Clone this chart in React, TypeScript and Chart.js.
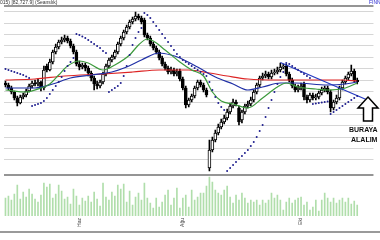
import React, { useEffect, useRef } from "react";
import { Chart, registerables } from "chart.js";

Chart.register(...registerables);

// price in hundreds of index points, one candle per trading day
const SLOTS = 125;
const tickIndex = [25, 60, 100];
const tickText = ["Haz", "Ağu", "Eki"];

const openP = [
  817, 815, 812, 808, 802, 797, 803, 805, 809, 814,
  817, 816, 818, 812, 834, 830, 838, 848, 853, 858,
  860, 862, 859, 854, 848, 836, 833, 835, 832, 827,
  822, 816, 814, 818, 826, 834, 840, 843, 848, 856,
  862, 868, 873, 878, 881, 884, 882, 880, 865, 862,
  856, 852, 848, 842, 836, 832, 828, 830, 826, 829,
  821, 812, 795, 800, 804, 812, 818, 815, 810, 732,
  750, 760, 767, 773, 778, 782, 788, 794, 798, 792,
  780, 788, 794, 796, 800, 808, 815, 822, 824, 826,
  823, 827, 828, 830, 833, 834, 826, 820, 814, 810,
  812, 816, 803, 800, 805, 802, 803, 807, 810, 812,
  808, 792, 798, 802, 812, 818, 822, 826, 829, 820,
];
const closeP = [
  815, 812, 808, 802, 797, 803, 805, 809, 814, 817,
  816, 818, 812, 830, 830, 838, 848, 853, 858, 860,
  862, 859, 854, 848, 836, 833, 835, 832, 827, 822,
  816, 814, 818, 826, 834, 840, 843, 848, 856, 862,
  868, 873, 878, 881, 884, 882, 878, 865, 862, 856,
  852, 848, 842, 836, 832, 828, 830, 826, 828, 821,
  812, 795, 800, 804, 812, 818, 815, 810, 805, 750,
  760, 767, 773, 778, 782, 788, 794, 798, 796, 778,
  788, 794, 796, 800, 808, 815, 822, 824, 826, 823,
  827, 828, 830, 833, 834, 826, 820, 814, 810, 812,
  814, 803, 800, 805, 802, 803, 807, 810, 812, 808,
  792, 798, 802, 812, 818, 822, 826, 829, 820, 818,
];
const highP = [
  819, 817, 814, 809, 804, 805, 807, 811, 816, 819,
  820, 821, 819, 834, 836, 841, 850, 856, 860, 863,
  865, 864, 861, 856, 850, 839, 837, 837, 834, 829,
  824, 819, 820, 828, 836, 842, 845, 850, 858, 864,
  870, 875, 880, 883, 888, 886, 884, 882, 867, 864,
  858, 854, 850, 844, 838, 834, 833, 832, 831, 831,
  823, 814, 802, 806, 814, 820, 820, 817, 812, 760,
  763, 770, 776, 781, 785, 791, 797, 801, 800, 794,
  790, 796, 799, 803, 810, 817, 824, 827, 829, 828,
  830, 831, 833, 837, 836, 836, 828, 822, 816, 815,
  817, 818, 805, 807, 807, 806, 809, 813, 814, 814,
  810, 800, 805, 814, 820, 824, 828, 835, 831, 822,
];
const lowP = [
  813, 810, 806, 800, 794, 796, 801, 803, 808, 812,
  814, 814, 809, 810, 828, 829, 836, 846, 851, 856,
  858, 857, 852, 846, 834, 830, 831, 829, 824, 819,
  810, 811, 812, 816, 824, 832, 838, 841, 846, 854,
  860, 866, 871, 876, 879, 880, 876, 863, 860, 854,
  850, 846, 840, 834, 830, 826, 826, 824, 824, 819,
  810, 792, 793, 798, 802, 810, 813, 808, 803, 729,
  748, 758, 765, 771, 776, 780, 786, 792, 794, 775,
  777, 786, 792, 794, 798, 806, 813, 820, 822, 821,
  821, 825, 826, 828, 831, 824, 818, 812, 808, 808,
  810, 800, 797, 798, 800, 800, 801, 805, 808, 806,
  788, 790, 796, 800, 810, 816, 820, 824, 818, 816,
];
const volume = [
  180, 200, 160, 220, 310, 170, 240, 190, 270, 220,
  170, 140, 210, 330, 290, 320, 180, 220, 310, 250,
  170, 190, 120, 270, 200, 110, 180, 150, 200, 140,
  240, 170, 100, 330, 190, 160, 240, 200, 310, 270,
  320, 140, 250, 110, 190, 230, 160, 330, 180, 130,
  80, 180, 90, 140, 210, 260, 110, 180, 280, 80,
  180, 210, 90, 260, 160, 190, 230, 230, 300, 390,
  340, 260, 230, 210, 260, 300, 190, 130, 210, 160,
  230, 180, 130, 160, 140, 160, 110, 160, 130, 160,
  230, 180, 210, 160, 60, 140, 180, 130, 160, 180,
  190, 110, 140, 60, 90, 160, 50, 160, 230, 180,
  140, 180, 130, 160, 180, 140, 180, 120, 150, 110,
];
const sar = [
  831, 830, 829, 828, 827, 826, 825, 823.5, 822, 794,
  795, 796, 797, 799, 802, 806, 810, 814, 818, 823,
  829, 834, 838, 842, 866, 865, 863.5, 862, 860, 858,
  856, 854, 852, 849, 847, 808, 810, 812, 814, 817,
  824, 834, 845, 855, 862, 868, 872, 887, 885, 882,
  878, 874, 870, 866, 862, 858, 854, 850, 846, 843,
  840, 838, 836, 834, 832, 830, 828, 826, 824, 818,
  810, 803, 797, 793, 790, 729, 732, 735, 738, 741,
  744, 747, 750, 754, 758, 763, 769, 775, 783, 792,
  800, 808, 816, 823, 828, 837, 836, 834, 832, 830,
  828, 826, 824, 822, 796, 796.5, 797, 797.5, 798, 798.5,
  786, 788, 790, 792, 794, 796, 798, 800, 802, 804,
];

const redAt = [0, 10, 20, 33, 43, 52, 62, 69, 75, 82, 92, 105, 114, 119];
const redVal = [820, 821, 824, 826, 828, 830, 830, 827, 824, 821, 820, 820, 820, 819];
const blueAt = [0, 10, 16, 22, 29, 36, 41, 46, 52, 56, 59, 65, 71, 77, 82, 87, 93, 98, 109, 115, 119];
const blueVal = [812, 812, 816, 822, 825, 828, 833, 840, 847, 845, 842, 833, 823, 816, 810, 813, 817, 817, 815, 816, 818];
const greenAt = [0, 7, 12, 15, 18, 21, 25, 28, 33, 37, 42, 45, 48, 50, 54, 59, 63, 67, 70, 73, 77, 82, 87, 92, 95, 99, 105, 109, 115, 119];
const greenVal = [810, 808, 812, 816, 825, 834, 839, 837, 830, 835, 845, 855, 861, 859, 850, 838, 830, 824, 808, 799, 796, 792, 802, 813, 817, 813, 811, 810, 812, 817];
const trendAt = [93, 124];
const trendVal = [837.5, 798];

const priceGrid = [894, 888.3, 876.9, 865.5, 854.1, 842.7, 831.3, 819.9, 808.5, 797.1, 785.7, 774.3, 762.9, 751.5, 740.1, 725];
const priceMin = 684;
const priceMax = 894;
const volMax = 2100;

export default function App() {
  const ref = useRef<HTMLCanvasElement>(null);

  useEffect(() => {
    const labels = Array.from({ length: SLOTS }, (_, i) => {
      const k = tickIndex.indexOf(i);
      return k >= 0 ? tickText[k] : "";
    });
    const sparse = (at: number[], vals: number[]) => {
      const a: (number | null)[] = new Array(SLOTS).fill(null);
      at.forEach((idx, k) => {
        a[idx] = vals[k];
      });
      return a;
    };
    const bodies = openP.map((o, i) => [o, closeP[i]]);
    const wicks = lowP.map((l, i) => [l, highP[i]]);
    const bodyColors = openP.map((o, i) => (closeP[i] >= o ? "#ffffff" : "#000000"));

    const chart = new Chart(ref.current as HTMLCanvasElement, {
      type: "bar",
      data: {
        labels,
        datasets: [
          {
            type: "line",
            label: "SAR",
            data: sar,
            showLine: false,
            pointRadius: 1,
            pointBorderWidth: 0,
            pointBackgroundColor: "#1f1f8f",
            yAxisID: "y",
            order: 1,
          } as any,
          {
            type: "line",
            label: "Trend",
            data: sparse(trendAt, trendVal),
            borderColor: "#2438c0",
            borderWidth: 1.3,
            pointRadius: 0,
            spanGaps: true,
            yAxisID: "y",
            order: 2,
          } as any,
          {
            type: "line",
            label: "MA kısa",
            data: sparse(greenAt, greenVal),
            borderColor: "#3d9a3d",
            borderWidth: 1.2,
            pointRadius: 0,
            spanGaps: true,
            cubicInterpolationMode: "monotone",
            yAxisID: "y",
            order: 3,
          } as any,
          {
            type: "line",
            label: "MA orta",
            data: sparse(blueAt, blueVal),
            borderColor: "#1f2fa6",
            borderWidth: 1.2,
            pointRadius: 0,
            spanGaps: true,
            cubicInterpolationMode: "monotone",
            yAxisID: "y",
            order: 4,
          } as any,
          {
            type: "line",
            label: "MA uzun",
            data: sparse(redAt, redVal),
            borderColor: "#dd2424",
            borderWidth: 1.2,
            pointRadius: 0,
            spanGaps: true,
            cubicInterpolationMode: "monotone",
            yAxisID: "y",
            order: 5,
          } as any,
          {
            type: "bar",
            label: "Gövde",
            data: bodies as any,
            backgroundColor: bodyColors,
            borderColor: "#000000",
            borderWidth: 1,
            borderSkipped: false,
            barThickness: 3,
            grouped: false,
            yAxisID: "y",
            order: 8,
          } as any,
          {
            type: "bar",
            label: "Fitil",
            data: wicks as any,
            backgroundColor: "#000000",
            borderWidth: 0,
            barThickness: 1,
            grouped: false,
            yAxisID: "y",
            order: 9,
          } as any,
          {
            type: "bar",
            label: "Hacim",
            data: volume,
            backgroundColor: "#b0deab",
            borderWidth: 0,
            barThickness: 1,
            grouped: false,
            yAxisID: "yv",
            order: 10,
          } as any,
        ],
      },
      options: {
        responsive: false,
        animation: false,
        events: [],
        layout: { padding: { top: 6, left: 0, right: 0, bottom: 0 } },
        plugins: { legend: { display: false }, tooltip: { enabled: false } },
        scales: {
          x: {
            grid: { display: false, drawTicks: false },
            border: { display: false },
            ticks: {
              autoSkip: false,
              maxRotation: 90,
              minRotation: 90,
              padding: 2,
              color: "#444",
              font: { size: 5, family: "Liberation Sans" },
            },
            afterFit: (s: any) => {
              s.height = 24;
            },
          },
          y: {
            position: "left",
            min: priceMin,
            max: priceMax,
            afterBuildTicks: (s: any) => {
              s.ticks = priceGrid.map((v) => ({ value: v }));
            },
            ticks: { display: false },
            grid: {
              drawTicks: false,
              color: (c: any) =>
                c.tick && (c.tick.value === 725 || c.tick.value === 894) ? "#959595" : "#d6d6d6",
              lineWidth: (c: any) =>
                c.tick && (c.tick.value === 725 || c.tick.value === 894) ? 2 : 1,
            },
            border: { display: false },
            afterFit: (s: any) => {
              s.width = 0;
            },
          },
          yv: {
            display: false,
            min: 0,
            max: volMax,
          },
        },
      } as any,
    });
    return () => chart.destroy();
  }, []);

  return (
    <div
      style={{
        position: "fixed",
        left: 0,
        top: 0,
        width: 380,
        height: 240,
        overflow: "hidden",
        background: "#ffffff",
      }}
    >
      <canvas ref={ref} width={380} height={240} style={{ position: "absolute", left: 0, top: 0 }} />
      <div
        style={{
          position: "absolute",
          left: 0,
          top: -1,
          fontFamily: "Liberation Sans, Arial, sans-serif",
          fontSize: 5,
          lineHeight: "6px",
          color: "#333",
          whiteSpace: "nowrap",
        }}
      >
        015) [82,727.9] (Seanslık)
      </div>
      <div
        style={{
          position: "absolute",
          left: 369,
          top: -1,
          fontFamily: "Liberation Sans, Arial, sans-serif",
          fontSize: 5,
          lineHeight: "6px",
          color: "#2a2ad0",
          whiteSpace: "nowrap",
        }}
      >
        FINNET
      </div>
      <svg
        width={380}
        height={240}
        style={{ position: "absolute", left: 0, top: 0, pointerEvents: "none" }}
      >
        <polygon
          points="368,97 378,108 372.5,108 372.5,121 363.5,121 363.5,108 358,108"
          fill="#ffffff"
          stroke="#000000"
          strokeWidth={1.5}
        />
      </svg>
      <div
        style={{
          position: "absolute",
          left: 349,
          top: 126,
          fontFamily: "Liberation Sans, Arial, sans-serif",
          fontWeight: "bold",
          fontSize: 7,
          lineHeight: "8px",
          color: "#111",
          whiteSpace: "nowrap",
        }}
      >
        BURAYA
      </div>
      <div
        style={{
          position: "absolute",
          left: 351,
          top: 136,
          fontFamily: "Liberation Sans, Arial, sans-serif",
          fontWeight: "bold",
          fontSize: 7,
          lineHeight: "8px",
          color: "#111",
          whiteSpace: "nowrap",
        }}
      >
        ALALIM
      </div>
      <div
        style={{
          position: "absolute",
          left: 0,
          top: 231,
          width: 380,
          height: 2,
          background: "#9a9a9a",
        }}
      />
    </div>
  );
}
